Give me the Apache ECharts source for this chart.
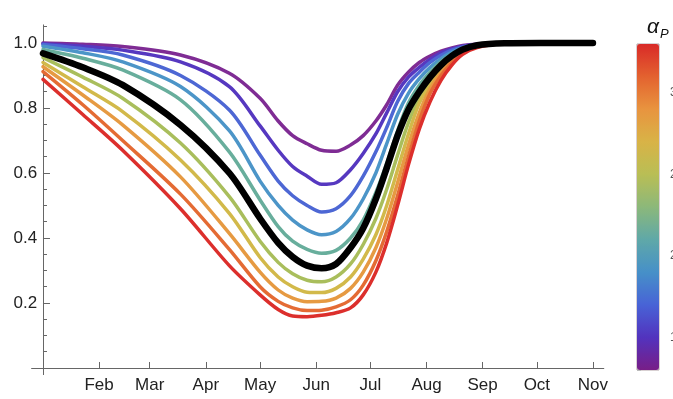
<!DOCTYPE html>
<html>
<head>
<meta charset="utf-8">
<script src="https://cdn.jsdelivr.net/npm/echarts@6/dist/echarts.min.js"></script>
<style>html,body{margin:0;padding:0;background:#fff}#c{width:673px;height:399px}</style>
</head>
<body>
<div id="c"></div>
<script>
// day of year (0 = Jan 1)
const days = [0, 22, 44, 76, 103, 120, 130, 138, 146, 154, 162, 170, 177, 184, 190, 196, 202, 208, 214, 220, 226, 232, 240, 255, 275, 304];
// curves by alpha_P
const a13 = [1.0, 0.996, 0.989, 0.963, 0.907, 0.83, 0.76, 0.715, 0.69, 0.67, 0.667, 0.686, 0.715, 0.76, 0.81, 0.87, 0.91, 0.94, 0.96, 0.975, 0.985, 0.992, 0.996, 0.999, 1.0, 1.0];
const a15 = [0.998, 0.99, 0.978, 0.942, 0.866, 0.745, 0.67, 0.62, 0.59, 0.565, 0.57, 0.61, 0.66, 0.72, 0.785, 0.85, 0.895, 0.925, 0.95, 0.97, 0.982, 0.99, 0.996, 0.999, 1.0, 1.0];
const a17 = [0.995, 0.982, 0.963, 0.90, 0.794, 0.655, 0.575, 0.53, 0.5, 0.48, 0.49, 0.53, 0.59, 0.665, 0.74, 0.82, 0.875, 0.91, 0.94, 0.962, 0.978, 0.988, 0.995, 0.999, 1.0, 1.0];
const a19 = [0.99, 0.97, 0.942, 0.866, 0.73, 0.575, 0.5, 0.455, 0.425, 0.41, 0.42, 0.46, 0.52, 0.6, 0.69, 0.78, 0.845, 0.89, 0.925, 0.952, 0.972, 0.985, 0.994, 0.999, 1.0, 1.0];
const a21 = [0.98, 0.953, 0.917, 0.825, 0.665, 0.517, 0.435, 0.39, 0.365, 0.353, 0.362, 0.4, 0.455, 0.54, 0.63, 0.73, 0.815, 0.87, 0.91, 0.943, 0.966, 0.982, 0.993, 0.999, 1.0, 1.0];
const a23 = [0.968, 0.925, 0.871, 0.748, 0.60, 0.46, 0.385, 0.342, 0.315, 0.307, 0.32, 0.37, 0.43, 0.52, 0.615, 0.715, 0.795, 0.85, 0.895, 0.932, 0.96, 0.98, 0.993, 0.999, 1.0, 1.0];
const a25 = [0.955, 0.895, 0.83, 0.692, 0.527, 0.39, 0.325, 0.29, 0.27, 0.265, 0.28, 0.32, 0.38, 0.46, 0.55, 0.655, 0.755, 0.83, 0.88, 0.922, 0.955, 0.978, 0.992, 0.999, 1.0, 1.0];
const a27 = [0.94, 0.865, 0.789, 0.64, 0.476, 0.34, 0.28, 0.25, 0.233, 0.232, 0.245, 0.28, 0.335, 0.41, 0.5, 0.61, 0.72, 0.815, 0.87, 0.915, 0.95, 0.975, 0.99, 0.999, 1.0, 1.0];
const a29 = [0.927, 0.84, 0.748, 0.588, 0.414, 0.295, 0.24, 0.215, 0.204, 0.205, 0.215, 0.245, 0.295, 0.37, 0.46, 0.57, 0.685, 0.785, 0.86, 0.908, 0.945, 0.972, 0.99, 0.999, 1.0, 1.0];
const a31 = [0.912, 0.81, 0.70, 0.535, 0.365, 0.25, 0.205, 0.185, 0.177, 0.178, 0.188, 0.21, 0.255, 0.33, 0.42, 0.53, 0.65, 0.76, 0.845, 0.9, 0.94, 0.97, 0.988, 0.999, 1.0, 1.0];
const a33 = [0.888, 0.78, 0.67, 0.49, 0.315, 0.225, 0.18, 0.16, 0.158, 0.162, 0.17, 0.185, 0.225, 0.295, 0.385, 0.5, 0.625, 0.735, 0.82, 0.885, 0.932, 0.965, 0.986, 0.998, 1.0, 1.0];

const monthDays = [31, 59, 90, 120, 151, 181, 212, 243, 273, 304];
const monthNames = ['Feb', 'Mar', 'Apr', 'May', 'Jun', 'Jul', 'Aug', 'Sep', 'Oct', 'Nov'];
const yLabels = [0.2, 0.4, 0.6, 0.8, 1.0];
const yMinor = [0.05, 0.1, 0.15, 0.2, 0.25, 0.3, 0.35, 0.4, 0.45, 0.5, 0.55, 0.6, 0.65, 0.7, 0.75, 0.8, 0.85, 0.9, 0.95, 1.0, 1.05];
const cbTicks = [1.3, 1.4, 1.5, 1.6, 1.7, 1.8, 1.9, 2.0, 2.1, 2.2, 2.3, 2.4, 2.5, 2.6, 2.7, 2.8, 2.9, 3.0, 3.1, 3.2, 3.3];
const cbLabels = [1.5, 2.0, 2.5, 3.0];
const cbColors = ['#781E87', '#5233BE', '#4863D6', '#4690C8', '#5FA8A8', '#8CB87A', '#B9BE55', '#D8B347', '#E8943F', '#E3622F', '#D92A28'];

const curves = [
  {v: a13, c: '#7F2C94', w: 3.5},
  {v: a15, c: '#5638C0', w: 3.5},
  {v: a17, c: '#4D67D4', w: 3.5},
  {v: a19, c: '#4C95C8', w: 3.5},
  {v: a21, c: '#68AE9C', w: 3.5},
  {v: a25, c: '#A9BE5C', w: 3.5},
  {v: a27, c: '#D2B94A', w: 3.5},
  {v: a29, c: '#E69A42', w: 3.5},
  {v: a31, c: '#E46B34', w: 3.5},
  {v: a33, c: '#DC2F2C', w: 3.5},
  {v: a23, c: '#000000', w: 6.5}
];

const FONT = 'Liberation Sans';
const axisCol = '#666';
const series = curves.map((s, k) => ({
  type: 'line', xAxisIndex: 0, yAxisIndex: 0,
  data: days.map((d, i) => [d, s.v[i]]),
  showSymbol: false, smooth: 0.3, silent: true,
  lineStyle: {color: s.c, width: s.w, cap: 'round', join: 'round'},
  z: 2 + k
}));
series.push({type: 'scatter', xAxisIndex: 1, yAxisIndex: 2, data: []});

const chart = echarts.init(document.getElementById('c'), null, {renderer: 'canvas'});
chart.setOption({
  animation: false,
  backgroundColor: '#fff',
  title: {
    text: '{a|α}{p|P}', left: 642, top: 7,
    textStyle: {fontWeight: 'normal', rich: {
      a: {fontSize: 21, fontStyle: 'italic', fontWeight: 'normal', fontFamily: FONT, color: '#111', lineHeight: 26, verticalAlign: 'bottom'},
      p: {fontSize: 13, fontStyle: 'italic', fontWeight: 'normal', fontFamily: FONT, color: '#111', lineHeight: 14, verticalAlign: 'bottom', padding: [0, 0, -3, 1]}
    }}
  },
  grid: [
    {left: 31.6, top: 25.1, width: 572.2, height: 349.4, outerBoundsMode: 'none'},
    {left: 637, top: 44, width: 22, height: 326, outerBoundsMode: 'none', show: true, borderColor: 'rgba(60,20,30,0.4)', borderWidth: 1}
  ],
  xAxis: [
    {type: 'value', gridIndex: 0, min: -6.3, max: 310,
     axisLine: {onZero: true, lineStyle: {color: axisCol, width: 1}},
     axisTick: {inside: true, length: 6, customValues: monthDays, lineStyle: {color: axisCol}},
     axisLabel: {customValues: monthDays, margin: 2, fontSize: 17, fontFamily: FONT, color: '#222',
                 formatter: v => monthNames[monthDays.indexOf(Math.round(v))] || ''},
     splitLine: {show: false}},
    {type: 'value', gridIndex: 1, min: 0, max: 1, show: false}
  ],
  yAxis: [
    {type: 'value', gridIndex: 0, min: -0.02, max: 1.055, position: 'left',
     axisLine: {show: true, onZero: true, onZeroAxisIndex: 0, lineStyle: {color: axisCol, width: 1}},
     axisTick: {inside: true, length: 7, customValues: yLabels, lineStyle: {color: axisCol}},
     axisLabel: {customValues: yLabels, margin: -5.5, fontSize: 17, fontFamily: FONT, color: '#222',
                 formatter: v => v.toFixed(1)},
     splitLine: {show: false}},
    {type: 'value', gridIndex: 0, min: -0.02, max: 1.055, position: 'left',
     axisLine: {show: true, onZero: true, onZeroAxisIndex: 0, lineStyle: {color: axisCol, width: 1}},
     axisTick: {inside: true, length: 4, customValues: yMinor, lineStyle: {color: axisCol}},
     axisLabel: {show: false}, splitLine: {show: false}},
    {type: 'value', gridIndex: 1, min: 1.3, max: 3.3, position: 'right',
     axisLine: {show: false},
     axisTick: {show: true, inside: false, length: 4, customValues: cbTicks, lineStyle: {color: '#bbb'}},
     axisLabel: {customValues: cbLabels, margin: 11, fontSize: 12, fontFamily: FONT, color: '#555',
                 formatter: v => String(v)},
     splitLine: {show: false}}
  ],
  visualMap: [{
    type: 'continuous', seriesIndex: series.length - 1, min: 1.3, max: 3.3,
    calculable: false, realtime: false, orient: 'vertical',
    left: 637, top: 44, itemWidth: 22, itemHeight: 326, padding: 0,
    text: null, showLabel: false,
    inRange: {color: cbColors}, hoverLink: false
  }],
  series: series
});
</script>
</body>
</html>
